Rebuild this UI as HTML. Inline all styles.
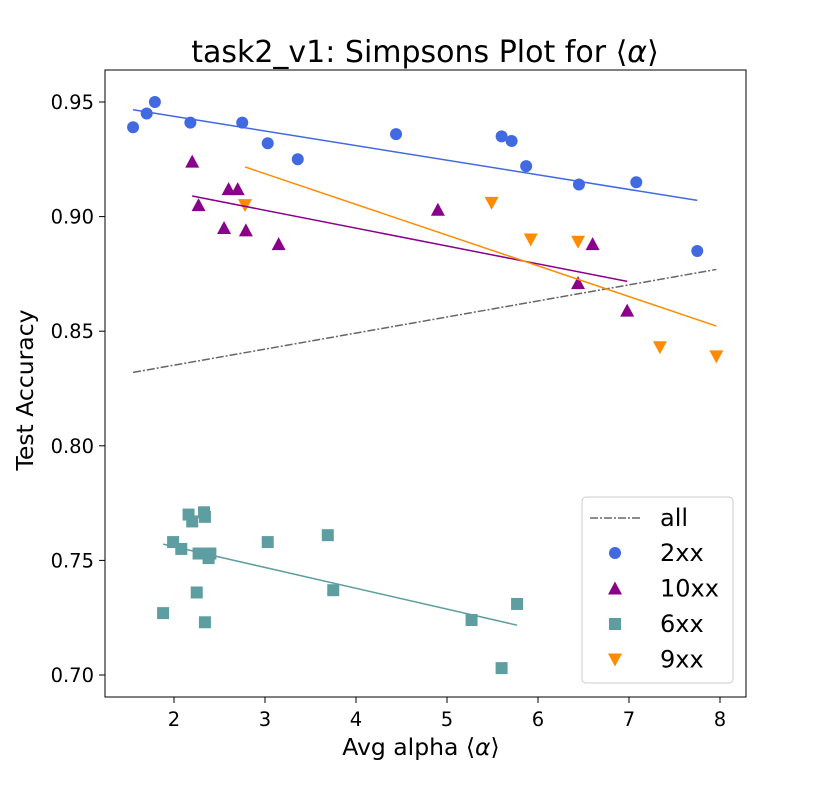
<!DOCTYPE html>
<html><head><meta charset="utf-8"><style>
body{margin:0;background:#fff;}
svg{display:block;font-family:"DejaVu Sans","Liberation Sans",sans-serif;}
</style></head><body>
<svg id="chart" width="836" height="804"></svg>
<script>
const xTicks=[2,3,4,5,6,7,8];
const yTicks=[0.70,0.75,0.80,0.85,0.90,0.95];
const x2xx=[1.55,1.70,1.79,2.18,2.75,3.03,3.36,4.44,5.60,5.71,5.87,6.45,7.08,7.75];
const y2xx=[0.939,0.945,0.950,0.941,0.941,0.932,0.925,0.936,0.935,0.933,0.922,0.914,0.915,0.885];
const x10xx=[2.20,2.27,2.55,2.60,2.70,2.79,3.15,4.90,6.44,6.60,6.98];
const y10xx=[0.924,0.905,0.895,0.912,0.912,0.894,0.888,0.903,0.871,0.888,0.859];
const x6xx=[1.88,1.99,2.08,2.16,2.20,2.25,2.27,2.33,2.34,2.34,2.38,2.40,3.03,3.69,3.75,5.27,5.60,5.77];
const y6xx=[0.727,0.758,0.755,0.770,0.767,0.736,0.753,0.771,0.769,0.723,0.751,0.753,0.758,0.761,0.737,0.724,0.703,0.731];
const x9xx=[2.78,5.49,5.92,6.44,7.34,7.96];
const y9xx=[0.905,0.906,0.890,0.889,0.843,0.839];

const NS="http://www.w3.org/2000/svg";
const svg=document.getElementById('chart');
const X=v=>-8+v*91;
const Y=v=>675-(v-0.70)*2292;
function mk(tag,attrs,parent){const e=document.createElementNS(NS,tag);for(const k in attrs)e.setAttribute(k,attrs[k]);(parent||svg).appendChild(e);return e;}

const frame=mk('rect',{x:105,y:70,width:641,height:627,fill:'none',stroke:'#000','stroke-width':1});



xTicks.forEach(t=>{
  const l=mk('line',{x1:X(t),x2:X(t),y1:697,y2:703,stroke:'#000'});
  
  
  const tx=mk('text',{x:X(t),y:726,'font-size':19.5,'text-anchor':'middle'});
  tx.textContent=t;
  
  
});
yTicks.forEach(t=>{
  const l=mk('line',{x1:99,x2:105,y1:Y(t),y2:Y(t),stroke:'#000'});
  
  
  const tx=mk('text',{x:94,y:Y(t)+7,'font-size':19.5,'text-anchor':'end'});
  tx.textContent=t.toFixed(2);
  
  
});

function fit(xs,ys){const n=xs.length;const mx=xs.reduce((a,b)=>a+b)/n,my=ys.reduce((a,b)=>a+b)/n;let sxy=0,sxx=0;for(let i=0;i<n;i++){sxy+=(xs[i]-mx)*(ys[i]-my);sxx+=(xs[i]-mx)**2;}const b=sxy/sxx;return [b,my-b*mx];}
function regLine(xs,ys,color,name,dash){
  const [b,a]=fit(xs,ys);const x0=Math.min(...xs),x1=Math.max(...xs);
  const l=mk('line',{x1:X(x0),y1:Y(a+b*x0),x2:X(x1),y2:Y(a+b*x1),stroke:color,'stroke-width':1.5});
  if(dash)l.setAttribute('stroke-dasharray',dash);
  
  
}
const allX=[...x2xx,...x10xx,...x6xx,...x9xx],allY=[...y2xx,...y10xx,...y6xx,...y9xx];
regLine(allX,allY,'#666','regression-all','8,2,2,2');

function marker(shape,cx,cy,color,parent){
  if(shape==='circle')return mk('circle',{cx,cy,r:6,fill:color},parent);
  if(shape==='square')return mk('rect',{x:cx-6,y:cy-6,width:12,height:12,fill:color},parent);
  if(shape==='up')return mk('polygon',{points:`${cx},${cy-7} ${cx-7},${cy+6} ${cx+7},${cy+6}`,fill:color},parent);
  return mk('polygon',{points:`${cx},${cy+7} ${cx-7},${cy-6} ${cx+7},${cy-6}`,fill:color},parent);
}
const series=[
  [x2xx,y2xx,'#4169e1','circle','2xx'],
  [x10xx,y10xx,'#8b008b','up','10xx'],
  [x6xx,y6xx,'#5f9ea0','square','6xx'],
  [x9xx,y9xx,'#ff8c00','down','9xx']];
series.forEach(([xs,ys,c,s,n])=>{
  xs.forEach((v,i)=>{
    const m=marker(s,X(v),Y(ys[i]),c);
    
    
  });
});
series.forEach(([xs,ys,c,s,n])=>regLine(xs,ys,c,'regression-'+n));

const title=mk('text',{x:425,y:62,'font-size':30,'text-anchor':'middle'});
title.innerHTML='task2_v1: Simpsons Plot for ⟨<tspan font-style="italic">α</tspan>⟩';


const xl=mk('text',{x:421,y:755,'font-size':23.5,'text-anchor':'middle'});
xl.innerHTML='Avg alpha ⟨<tspan font-style="italic">α</tspan>⟩';


const yl=mk('text',{x:0,y:0,'font-size':23.5,'text-anchor':'middle',transform:'translate(33,390) rotate(-90)'});
yl.textContent='Test Accuracy';



const lg=mk('g',{});


mk('rect',{x:582,y:497,width:151,height:186,rx:4,fill:'#fff',stroke:'#ccc'},lg);
const le=mk('line',{x1:590,x2:640,y1:518,y2:518,stroke:'#666','stroke-width':1.5,'stroke-dasharray':'8,2,2,2'},lg);


const lt=mk('text',{x:660,y:526,'font-size':24},lg);lt.textContent='all';
series.forEach(([xs,ys,c,s,n],i)=>{
  const cy=553+i*35.5;
  const m=marker(s,615,cy,c,lg);
  
  
  const t=mk('text',{x:660,y:cy+8,'font-size':24},lg);t.textContent=n;
});
</script>
</body></html>
